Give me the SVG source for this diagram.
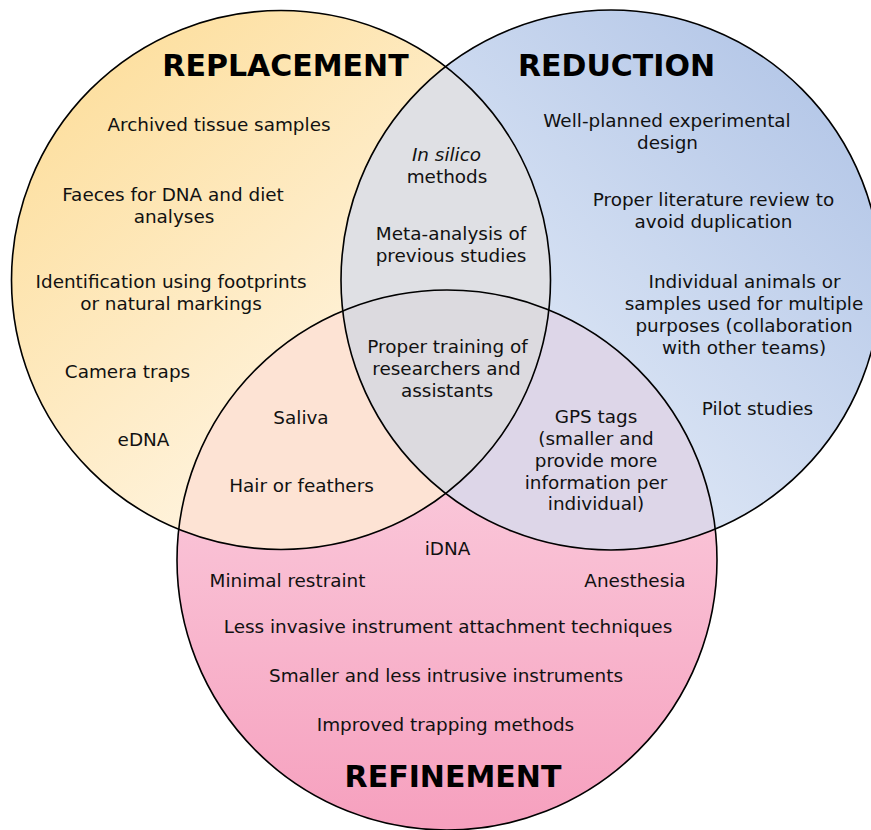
<svg xmlns="http://www.w3.org/2000/svg" width="871" height="830" viewBox="0 0 871 830">
<style>
.t{font-family:"DejaVu Sans",Verdana,sans-serif;font-size:18.4px;fill:#111;text-anchor:middle}
.h{font-family:"DejaVu Sans",Verdana,sans-serif;font-size:30px;font-weight:bold;fill:#000;text-anchor:middle}
.o{fill:none;stroke:#000;stroke-width:1.6}
</style>
<defs>
<linearGradient id="gRep" x1="0.2" y1="0.1" x2="0.8" y2="0.8">
<stop offset="0" stop-color="#fde0a2"/><stop offset="1" stop-color="#fff7e9"/>
</linearGradient>
<linearGradient id="gRed" x1="0.9" y1="0.1" x2="0.2" y2="0.8">
<stop offset="0" stop-color="#b3c6e7"/><stop offset="1" stop-color="#e4ecf8"/>
</linearGradient>
<linearGradient id="gRef" x1="0" y1="0" x2="0" y2="1">
<stop offset="0" stop-color="#fcdce8"/><stop offset="1" stop-color="#f6a0be"/>
</linearGradient>
<clipPath id="cRed"><circle cx="611" cy="280" r="270"/></clipPath>
<clipPath id="cRef"><circle cx="447" cy="560" r="270"/></clipPath>
</defs>
<rect width="871" height="830" fill="#fff"/>
<g id="fills">
<circle cx="281" cy="280" r="269.5" fill="url(#gRep)"/>
<circle cx="611" cy="280" r="270" fill="url(#gRed)"/>
<circle cx="447" cy="560" r="270" fill="url(#gRef)"/>
<circle cx="281" cy="280" r="269.5" fill="#dfe0e4" clip-path="url(#cRed)"/>
<circle cx="281" cy="280" r="269.5" fill="#fde3d4" clip-path="url(#cRef)"/>
<circle cx="611" cy="280" r="270" fill="#ddd6e8" clip-path="url(#cRef)"/>
<g clip-path="url(#cRed)"><circle cx="281" cy="280" r="269.5" fill="#dcdadf" clip-path="url(#cRef)"/></g>
</g>
<g id="outlines">
<circle class="o" cx="281" cy="280" r="269.5"/>
<circle class="o" cx="611" cy="280" r="270"/>
<circle class="o" cx="447" cy="560" r="270"/>
</g>
<g id="replacement">
<text class="h" x="285.5" y="76">REPLACEMENT</text>
<text class="t" x="219" y="131">Archived tissue samples</text>
<text class="t" x="173" y="201">Faeces for DNA and diet</text>
<text class="t" x="174" y="223">analyses</text>
<text class="t" x="171" y="288">Identification using footprints</text>
<text class="t" x="171" y="310">or natural markings</text>
<text class="t" x="127.5" y="378">Camera traps</text>
<text class="t" x="143.5" y="446">eDNA</text>
</g>
<g id="reduction">
<text class="h" x="616.5" y="76">REDUCTION</text>
<text class="t" x="667" y="127">Well-planned experimental</text>
<text class="t" x="667.5" y="149">design</text>
<text class="t" x="713.5" y="206">Proper literature review to</text>
<text class="t" x="713.5" y="228">avoid duplication</text>
<text class="t" x="744.5" y="288">Individual animals or</text>
<text class="t" x="744" y="310">samples used for multiple</text>
<text class="t" x="744" y="332">purposes (collaboration</text>
<text class="t" x="744" y="354">with other teams)</text>
<text class="t" x="757.5" y="415">Pilot studies</text>
</g>
<g id="refinement">
<text class="t" x="447.5" y="555">iDNA</text>
<text class="t" x="287.5" y="587">Minimal restraint</text>
<text class="t" x="635" y="587">Anesthesia</text>
<text class="t" x="448" y="633">Less invasive instrument attachment techniques</text>
<text class="t" x="446" y="682">Smaller and less intrusive instruments</text>
<text class="t" x="445.5" y="731">Improved trapping methods</text>
<text class="h" x="453" y="787">REFINEMENT</text>
</g>
<g id="replacement-reduction">
<text class="t" x="446.5" y="161"><tspan font-style="italic">In silico</tspan></text>
<text class="t" x="447" y="183">methods</text>
<text class="t" x="451" y="240">Meta-analysis of</text>
<text class="t" x="451" y="262">previous studies</text>
</g>
<g id="replacement-refinement">
<text class="t" x="301" y="424">Saliva</text>
<text class="t" x="301.5" y="492">Hair or feathers</text>
</g>
<g id="reduction-refinement">
<text class="t" x="596" y="423">GPS tags</text>
<text class="t" x="596" y="445">(smaller and</text>
<text class="t" x="596" y="467">provide more</text>
<text class="t" x="596" y="489">information per</text>
<text class="t" x="596" y="510">individual)</text>
</g>
<g id="all-three">
<text class="t" x="447.5" y="353">Proper training of</text>
<text class="t" x="446.5" y="375">researchers and</text>
<text class="t" x="447" y="397">assistants</text>
</g>
</svg>
